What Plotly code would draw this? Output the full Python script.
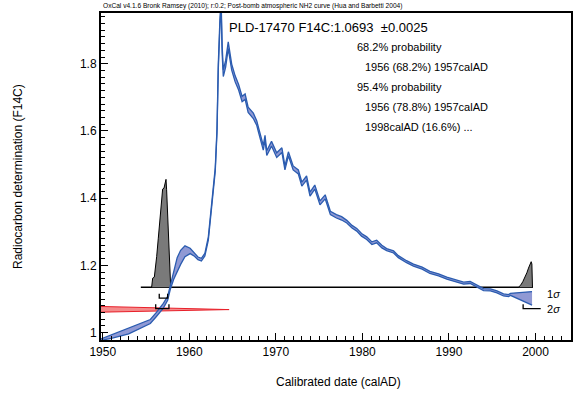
import plotly.graph_objects as go

# post-bomb calibration curve (NH2)
cal_year = [1949.8, 1951.0, 1953.0, 1955.5, 1956.2, 1957.0, 1957.5, 1957.8, 1958.2, 1958.6,
            1959.0, 1959.5, 1960.1, 1960.6, 1961.0, 1961.4, 1961.8, 1962.2, 1962.6, 1963.0,
            1963.2, 1963.35, 1963.55, 1963.68, 1963.8, 1963.93, 1964.2, 1964.5, 1964.9, 1965.3,
            1965.7, 1966.1, 1966.45, 1966.8, 1967.4, 1967.8, 1968.0, 1968.55, 1968.75, 1968.95,
            1969.5, 1970.1, 1970.7, 1971.05, 1971.45, 1972.0, 1972.6, 1973.0, 1973.55, 1973.95,
            1974.5, 1975.1, 1975.7, 1976.3, 1977.0, 1977.6, 1978.2, 1978.8, 1979.35, 1979.9,
            1980.5, 1981.1, 1981.65, 1982.25, 1982.8, 1983.6, 1984.15, 1985.1, 1985.9, 1986.9,
            1987.8, 1988.8, 1989.75, 1990.7, 1991.7, 1992.45, 1993.25, 1994.0, 1994.8, 1995.55,
            1996.3, 1996.9, 1997.1, 1999.6]
cal_f14c = [0.979, 0.988, 1.004, 1.033, 1.054, 1.080, 1.102, 1.134, 1.172, 1.203,
            1.224, 1.242, 1.243, 1.232, 1.221, 1.217, 1.232, 1.280, 1.380, 1.485,
            1.600, 1.790, 1.930, 1.975, 1.840, 1.772, 1.800, 1.855, 1.790, 1.755,
            1.730, 1.695, 1.702, 1.663, 1.645, 1.623, 1.603, 1.550, 1.580, 1.534,
            1.562, 1.528, 1.543, 1.490, 1.532, 1.490, 1.478, 1.442, 1.460, 1.412,
            1.433, 1.386, 1.404, 1.356, 1.346, 1.340, 1.330, 1.315, 1.306, 1.291,
            1.281, 1.266, 1.271, 1.256, 1.247, 1.240, 1.226, 1.211, 1.201, 1.192,
            1.179, 1.172, 1.162, 1.155, 1.147, 1.149, 1.137, 1.128, 1.127, 1.121,
            1.112, 1.110, 1.114, 1.102]
cal_sigma = [0.002, 0.005, 0.008, 0.006, 0.006, 0.007, 0.006, 0.006, 0.013, 0.020,
             0.021, 0.016, 0.008, 0.005, 0.004, 0.004, 0.004, 0.005, 0.005, 0.005,
             0.006, 0.008, 0.010, 0.012, 0.012, 0.010, 0.010, 0.010, 0.009, 0.009,
             0.008, 0.008, 0.008, 0.008, 0.008, 0.007, 0.007, 0.007, 0.007, 0.007,
             0.007, 0.007, 0.007, 0.006, 0.006, 0.006, 0.006, 0.006, 0.006, 0.006,
             0.006, 0.006, 0.006, 0.005, 0.005, 0.005, 0.004, 0.004, 0.004, 0.004,
             0.004, 0.004, 0.004, 0.004, 0.003, 0.003, 0.003, 0.003, 0.003, 0.003,
             0.003, 0.003, 0.003, 0.003, 0.003, 0.003, 0.003, 0.003, 0.003, 0.003,
             0.003, 0.003, 0.003, 0.020]

# measurement
meas_f14c = 1.0693
meas_err = 0.0025
meas_wedge_year = [1949.8, 1964.6]
meas_wedge_half = [0.0085, 0.0008]

# calibrated probability (drawn above the baseline)
prob_base = 1.135
prob_base_span = [1954.4, 1999.7]
prob1_year = [1955.65, 1955.77, 1955.96, 1956.07, 1956.23, 1956.42, 1956.61, 1956.81, 1956.92,
              1957.08, 1957.19, 1957.31, 1957.38, 1957.54, 1957.69, 1957.85]
prob1_dens = [0, 0.027, 0.030, 0.051, 0.091, 0.146, 0.200, 0.265, 0.292,
              0.295, 0.314, 0.321, 0.290, 0.171, 0.061, 0]
prob2_year = [1998.03, 1998.31, 1998.54, 1998.81, 1999.0, 1999.19, 1999.31, 1999.42, 1999.5,
              1999.58, 1999.65]
prob2_dens = [0, 0.007, 0.017, 0.030, 0.043, 0.057, 0.066, 0.073, 0.076, 0.069, 0]

# ranges
sigma1_range = [1956.53, 1957.5]
sigma1_level = 1.1024
sigma2_left = [1956.12, 1957.65]
sigma2_right = [1998.57, 2000.6]
sigma2_level = 1.0715
bracket_tick = 0.013

FONT = "Liberation Sans, Arial, sans-serif"
BLUE = "#2b5cb0"
BAND = "rgba(125,135,205,0.85)"

W, H = 579, 394
ML, MR, MT, MB = 101, 8, 13, 54
PW, PH = W - ML - MR, H - MT - MB


def px_x(px):
    return (px - ML) / PW


def px_y(py):
    return (MT + PH - py) / PH


fig = go.Figure()

# measurement wedge
wx = meas_wedge_year + meas_wedge_year[::-1]
wy = [meas_f14c + h for h in meas_wedge_half] + [meas_f14c - h for h in meas_wedge_half[::-1]]
fig.add_trace(go.Scatter(x=wx, y=wy, mode="lines", fill="toself",
                         fillcolor="rgba(240,90,90,0.7)",
                         line=dict(color="#e8202a", width=1)))

# baseline
fig.add_trace(go.Scatter(x=prob_base_span, y=[prob_base, prob_base], mode="lines",
                         line=dict(color="black", width=1.5)))

# probability distributions
for yrs, dens in [(prob1_year, prob1_dens), (prob2_year, prob2_dens)]:
    fig.add_trace(go.Scatter(x=yrs, y=[prob_base + d for d in dens], mode="lines",
                             fill="toself", fillcolor="#7a7a7a",
                             line=dict(color="black", width=1)))

# calibration curve band
upper = [m + s for m, s in zip(cal_f14c, cal_sigma)]
lower = [m - s for m, s in zip(cal_f14c, cal_sigma)]
fig.add_trace(go.Scatter(x=cal_year, y=upper, mode="lines",
                         line=dict(color=BLUE, width=1.3)))
fig.add_trace(go.Scatter(x=cal_year, y=lower, mode="lines", fill="tonexty",
                         fillcolor=BAND, line=dict(color=BLUE, width=1.3)))

# range brackets
bx, by = [], []
for (a, b), lev in [(sigma1_range, sigma1_level), (sigma2_left, sigma2_level)]:
    bx += [a, a, b, b, None]
    by += [lev + bracket_tick, lev, lev, lev + bracket_tick, None]
bx += [sigma2_right[0], sigma2_right[0], sigma2_right[1]]
by += [sigma2_level + bracket_tick, sigma2_level, sigma2_level]
fig.add_trace(go.Scatter(x=bx, y=by, mode="lines", line=dict(color="black", width=1.3)))

ann = [
    dict(text="OxCal v4.1.6 Bronk Ramsey (2010); r:0.2; Post-bomb atmospheric NH2 curve (Hua and Barbetti 2004)",
         x=px_x(101), y=px_y(6), size=6.6),
    dict(text=f"PLD-17470 F14C:{meas_f14c:.4f}  \u00b1{meas_err:.4f}", x=px_x(227), y=px_y(27), size=13),
    dict(text="68.2% probability", x=px_x(355), y=px_y(47), size=11),
    dict(text="1956 (68.2%) 1957calAD", x=px_x(363), y=px_y(67), size=11),
    dict(text="95.4% probability", x=px_x(355), y=px_y(87), size=11),
    dict(text="1956 (78.8%) 1957calAD", x=px_x(363), y=px_y(107), size=11),
    dict(text="1998calAD (16.6%) ...", x=px_x(363), y=px_y(127), size=11),
    dict(text="1<i>\u03c3</i>", x=px_x(545), y=px_y(294), size=11),
    dict(text="2<i>\u03c3</i>", x=px_x(545), y=px_y(309), size=11),
]
for a in ann:
    fig.add_annotation(text=a["text"], x=a["x"], y=a["y"], xref="paper", yref="paper",
                       xanchor="left", yanchor="middle", showarrow=False,
                       font=dict(size=a["size"], color="black", family=FONT))

fig.add_annotation(text="Calibrated date (calAD)", x=px_x(338), y=px_y(382),
                   xref="paper", yref="paper", showarrow=False,
                   xanchor="center", yanchor="middle",
                   font=dict(size=12, color="black", family=FONT))
fig.add_annotation(text="Radiocarbon determination (F14C)", x=px_x(18), y=px_y(177),
                   xref="paper", yref="paper", showarrow=False, textangle=-90,
                   xanchor="center", yanchor="middle",
                   font=dict(size=12, color="black", family=FONT))

fig.update_xaxes(range=[1949.8, 2004.1], dtick=10, tick0=1950, ticks="inside", ticklen=7,
                 tickwidth=1, tickcolor="black",
                 minor=dict(dtick=1, ticks="inside", ticklen=4, tickcolor="black"),
                 showline=True, linecolor="black", linewidth=2, mirror=True,
                 showgrid=False, zeroline=False, automargin=False,
                 tickfont=dict(size=12, color="black", family=FONT))
fig.update_yaxes(range=[0.978, 1.951], dtick=0.2, tick0=1, ticks="inside", ticklen=7,
                 tickwidth=1, tickcolor="black",
                 minor=dict(dtick=0.02, ticks="inside", ticklen=4, tickcolor="black"),
                 showline=True, linecolor="black", linewidth=2, mirror=True,
                 showgrid=False, zeroline=False, automargin=False,
                 tickfont=dict(size=12, color="black", family=FONT))

fig.update_layout(width=W, height=H, showlegend=False, hovermode=False,
                  margin=dict(l=ML, r=MR, t=MT, b=MB),
                  plot_bgcolor="white", paper_bgcolor="white")

# drop the browser's default body margin so the page is exactly the figure
fig.write_html("out.html", config={"displayModeBar": False},
               post_script="document.body.style.margin='0';")
